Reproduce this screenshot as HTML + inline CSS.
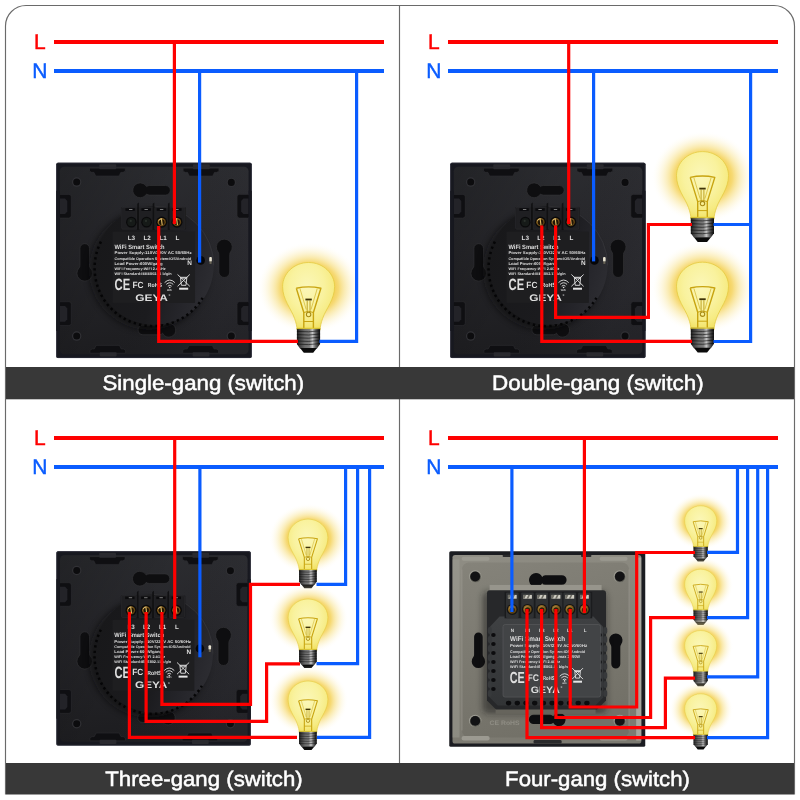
<!DOCTYPE html>
<html lang="en">
<head>
<meta charset="utf-8">
<title>Wiring diagram</title>
<style>
html,body{margin:0;padding:0;background:#fff;}
body{width:800px;height:800px;overflow:hidden;font-family:"Liberation Sans",sans-serif;}
svg{display:block;opacity:.9999;}
.cap{font-family:"Liberation Sans",sans-serif;font-size:21px;fill:#fff;stroke:#fff;stroke-width:.5px;}
.ln{font-family:"Liberation Sans",sans-serif;font-size:21px;stroke-width:.45px;}
.r{stroke:#fe0000;stroke-width:3.2;fill:none;stroke-linejoin:miter;stroke-linecap:butt;}
.b{stroke:#0a5cff;stroke-width:3.2;fill:none;stroke-linejoin:miter;stroke-linecap:butt;}
.R{stroke:#fe0000;stroke-width:4;fill:none;}
.B{stroke:#0a5cff;stroke-width:4;fill:none;}
.t{font-family:"Liberation Sans",sans-serif;fill:#dedede;}
text{text-rendering:geometricPrecision;}
</style>
</head>
<body>
<svg width="800" height="800" viewBox="0 0 800 800">
<defs>
<!-- bulb -->
<radialGradient id="glowG" cx="0.5" cy="0.5" r="0.5">
<stop offset="0" stop-color="#f4d058"/><stop offset="0.48" stop-color="#f4d058"/><stop offset="0.56" stop-color="#f5d564" stop-opacity="0.9"/><stop offset="0.66" stop-color="#f7de80" stop-opacity="0.66"/><stop offset="0.78" stop-color="#fae8a2" stop-opacity="0.4"/><stop offset="0.9" stop-color="#fdf3cc" stop-opacity="0.16"/><stop offset="1" stop-color="#fff" stop-opacity="0"/>
</radialGradient>
<radialGradient id="glassG" cx="0.47" cy="0.36" r="0.66">
<stop offset="0" stop-color="#fbf7b8"/><stop offset="0.5" stop-color="#f9f29e"/><stop offset="0.8" stop-color="#f6eb82"/><stop offset="1" stop-color="#f1e05e"/>
</radialGradient>
<linearGradient id="baseG" x1="0" x2="1" y1="0" y2="0">
<stop offset="0" stop-color="#161616"/><stop offset="0.1" stop-color="#3a3a3a"/><stop offset="0.34" stop-color="#6c6c6c"/><stop offset="0.54" stop-color="#7c7c7c"/><stop offset="0.67" stop-color="#c6c6c6"/><stop offset="0.79" stop-color="#6e6e6e"/><stop offset="0.92" stop-color="#2c2c2c"/><stop offset="1" stop-color="#111"/>
</linearGradient>
<path id="glassP" d="M0,0 C14.5,0 26,11 26,24 C26,37 17.5,46 14,56 C12.4,60.5 11.6,64 11.6,67.5 L-11.6,67.5 C-11.6,64 -12.4,60.5 -14,56 C-17.5,46 -26,37 -26,24 C-26,11 -14.5,0 0,0Z"/>
<g id="bulb">
<ellipse cx="0.8" cy="25.5" rx="52" ry="46" fill="url(#glowG)"/>
<use href="#glassP" fill="url(#glassG)" stroke="#e4cb44" stroke-width="0.8"/>
<g fill="none" stroke="#c8a410" stroke-width="1.4" stroke-linejoin="round">
<path d="M-12.3,25.8 Q0,23 12.3,25.8 L4.8,50 V66 M-12.3,25.8 L-4.8,50 V66"/>
<path d="M-8.6,26.2 L-2.4,47 M8.6,26.2 L2.4,47" stroke="#d6bb3a" stroke-width="0.8"/>
<path d="M-4.8,50 Q0,47.6 4.8,50 M-4.8,59 H4.8" stroke-width="1"/>
<path d="M-1.4,38 V50 M1.4,38 V50" stroke="#b89a18" stroke-width="0.9"/>
<circle cx="0" cy="52" r="2.2" stroke="#a88a14" stroke-width="1.1"/>
</g>
<path d="M-3.2,37 H3.2" stroke="#3e3306" stroke-width="1.8" fill="none"/>
<path d="M-11.7,65.6 H11.5 V81.6 L8.4,86 H-8.6 L-11.7,81.6Z" fill="url(#baseG)"/>
<g stroke="#0a0a0a" stroke-width="0.95" opacity="0.62" fill="none"><path d="M-11.7,68.9 Q0,70 11.5,68.3 M-11.7,72.1 Q0,73.2 11.5,71.5 M-11.7,75.3 Q0,76.4 11.5,74.7 M-11.7,78.5 Q0,79.6 11.5,77.9 M-11.5,81.7 Q0,82.8 11.3,81.1"/></g>
<path d="M-11.7,65.2 H11.5 V66.6 H-11.7Z" fill="#e6cf2e" opacity="0.85"/>
<path d="M-8.6,85.6 H8.4 L4.6,90.3 H-4.8Z" fill="#0b0b0b"/>
</g>
<!-- black switch back (195 x 195 local) -->
<linearGradient id="plateG" x1="0" x2="0.12" y1="0" y2="1">
<stop offset="0" stop-color="#2c2d31"/><stop offset="0.4" stop-color="#27272b"/><stop offset="1" stop-color="#1d1d20"/>
</linearGradient>
<linearGradient id="plateH" x1="0" x2="1" y1="0" y2="0.5">
<stop offset="0" stop-color="#000" stop-opacity="0.22"/><stop offset="0.5" stop-color="#000" stop-opacity="0"/><stop offset="1" stop-color="#9090a8" stop-opacity="0.06"/>
</linearGradient>
<linearGradient id="modG" x1="0" x2="1" y1="0.35" y2="0.65">
<stop offset="0" stop-color="#18181a"/><stop offset="0.55" stop-color="#1b1b1e"/><stop offset="0.8" stop-color="#25252a"/><stop offset="1" stop-color="#2d2d32"/>
</linearGradient>
<radialGradient id="goldG" cx="0.4" cy="0.4" r="0.7">
<stop offset="0" stop-color="#d8b260"/><stop offset="0.45" stop-color="#946a22"/><stop offset="1" stop-color="#382405"/>
</radialGradient>
<filter id="sh" x="-30%" y="-30%" width="160%" height="160%"><feGaussianBlur stdDeviation="3"/></filter>
<g id="gscrew">
<circle r="5.5" fill="#09090a"/><circle r="4.2" fill="url(#goldG)"/><circle r="2.8" fill="#1e1404"/><path d="M-0.3,-3 L0.5,3" stroke="#e2bc62" stroke-width="1.1"/><path d="M-2.9,-1.4 A3.4,3.4 0 0 1 0.2,-3.5" stroke="#f3d890" stroke-width="0.8" fill="none"/>
</g>
<g id="dscrew">
<circle r="5.3" fill="#0a0a0b"/><circle r="4" fill="#161a18"/><circle cx="-0.6" cy="-1.2" r="1.1" fill="#2a302b"/>
</g>
<g id="hole"><circle r="4.7" fill="#313135"/><circle r="3.5" fill="#0c0c0e"/></g>
<g id="labeltxt" class="t">
<text x="58.1" y="85.7" font-size="6.2" font-weight="bold" textLength="50" lengthAdjust="spacingAndGlyphs">WiFi Smart Switch</text>
<text x="58.1" y="91.6" font-size="4" font-weight="bold" textLength="77" lengthAdjust="spacingAndGlyphs">Power Supply:110V/220V AC  50/60Hz</text>
<text x="58.1" y="96.8" font-size="3.7" font-weight="bold" textLength="76.5" lengthAdjust="spacingAndGlyphs">Compatible Operation System:IOS/Android</text>
<text x="58.1" y="101.8" font-size="4" font-weight="bold" textLength="48" lengthAdjust="spacingAndGlyphs">Load Power:600W/gang</text>
<text x="58.1" y="107" font-size="3.7" font-weight="bold" textLength="51" lengthAdjust="spacingAndGlyphs">WiFi Frequency:WiFi 2.4GHz</text>
<text x="58.1" y="112.3" font-size="3.7" font-weight="bold" textLength="57" lengthAdjust="spacingAndGlyphs">WiFi Standard:IEEE802.11 b/g/n</text>
<text x="130.6" y="102.6" font-size="6.4" font-weight="bold">N</text>
<!-- CE -->
<text x="58.2" y="126.9" font-size="16.4" font-weight="bold" textLength="15.6" lengthAdjust="spacingAndGlyphs">CE</text>
<text x="76" y="124.6" font-size="9" font-weight="bold" textLength="11" lengthAdjust="spacingAndGlyphs">FC</text>
<text x="91.2" y="124.2" font-size="6" font-weight="bold" textLength="14.2" lengthAdjust="spacingAndGlyphs">RoHS</text>
<!-- wifi icon -->
<g fill="none" stroke="#e4e4e4" stroke-width="0.9" stroke-linecap="round">
<path d="M108.4,119.4 Q113.2,114.6 118,119.4"/><path d="M110,121.2 Q113.2,118.2 116.4,121.2"/><path d="M111.6,123 Q113.2,121.6 114.8,123"/>
</g>
<circle cx="113.2" cy="124.6" r="0.8" fill="#e4e4e4"/>
<text x="110.4" y="127.6" font-size="2.4" font-weight="bold">WiFi</text>
<!-- weee bin -->
<g fill="none" stroke="#e4e4e4" stroke-width="0.9">
<path d="M121,111.6 L133.2,123.4 M133.2,111.6 L121,123.4"/><path d="M124,115.2 H130.2 L129.4,122.4 H124.8Z"/><path d="M123.4,114.4 H130.8"/>
</g>
<rect x="122.6" y="124.8" width="9" height="2" fill="#e4e4e4"/>
<!-- brand -->
<text x="78.8" y="137.6" font-size="9.6" font-weight="bold" textLength="32.6" lengthAdjust="spacingAndGlyphs">GEYA</text>
<text x="112" y="133" font-size="2.6">®</text>
</g>
<g id="sw">
<rect x="0" y="0" width="195" height="195" rx="1.6" fill="#17181f"/>
<rect x="0.4" y="0.4" width="194.2" height="194.2" rx="1.4" fill="none" stroke="#2c2d3a" stroke-width="0.8"/>
<rect x="3.6" y="4" width="188.2" height="187.2" rx="4.5" fill="url(#plateG)"/>
<rect x="3.6" y="4" width="188.2" height="187.2" rx="4.5" fill="url(#plateH)"/>
<!-- rim notches -->
<g fill="#0f0f12" stroke="#303034" stroke-width="0.5">
<path d="M33.2,5.4 H68.80000000000001 V8.4 L66.6,9.6 H64.4 L62.6,13.2 H39.400000000000006 L37.6,9.6 H35.400000000000006 L33.2,8.4Z"/>
<path d="M126.6,5.4 H162.2 V8.4 L160.0,9.6 H157.79999999999998 L156.0,13.2 H132.79999999999998 L131.0,9.6 H128.79999999999998 L126.6,8.4Z"/>
<path d="M33.6,190.2 H69.2 V187.2 L67.0,186 H64.8 L63.0,182.4 H39.800000000000004 L38.0,186 H35.800000000000004 L33.6,187.2Z"/>
<path d="M126.2,190.2 H161.8 V187.2 L159.6,186 H157.4 L155.6,182.4 H132.4 L130.6,186 H128.4 L126.2,187.2Z"/>
<rect x="2" y="31.6" width="13" height="23.6" rx="2.4"/>
<rect x="2" y="138.8" width="13" height="23.8" rx="2.4"/>
<rect x="180.4" y="31.6" width="13" height="23.6" rx="2.4"/>
<rect x="180.4" y="138.8" width="13" height="23.8" rx="2.4"/>
</g>
<g fill="#2a2a2f"><rect x="43" y="1.6" width="16.8" height="5" rx="0.8"/><rect x="136.4" y="1.6" width="16.8" height="5" rx="0.8"/><rect x="43.4" y="189.2" width="16.8" height="4.2" rx="0.8"/><rect x="136" y="189.2" width="16.8" height="4.2" rx="0.8"/></g>
<g fill="#232328"><path d="M3.6,35.6 h5.2 l2.2,2.6 v10.4 l-2.2,2.6 h-5.2Z"/><path d="M3.6,143 h5.2 l2.2,2.6 v10.6 l-2.2,2.6 h-5.2Z"/><path d="M191.8,35.6 h-5.2 l-2.2,2.6 v10.4 l2.2,2.6 h5.2Z"/><path d="M191.8,143 h-5.2 l-2.2,2.6 v10.6 l2.2,2.6 h5.2Z"/></g>
<g fill="#17181f"><rect x="0" y="28" width="3.6" height="140"/><rect x="191.8" y="28" width="3.2" height="140"/></g>
<!-- screw holes -->
<use href="#hole" x="20.4" y="19.3"/><use href="#hole" x="174.6" y="19.6"/><use href="#hole" x="20.4" y="173.1"/><use href="#hole" x="174.6" y="173.1"/>
<!-- slots -->
<g fill="#0e0e10" stroke="#323235" stroke-width="0.7">
<path d="M83.75,20.1 a7.4,7.4 0 0 1 6.4,3.7 q1.2,-1.1 3,-1.1 h15.8 a4.8,4.8 0 0 1 0,9.6 h-15.8 q-1.8,0 -3,-1.1 a7.4,7.4 0 1 1 -6.4,-11.1Z"/>
<path d="M112.4,174.2 a7,7 0 0 1 -6.4,-4 q-1,1.6 -3,1.6 h-16.6 a4.8,4.8 0 0 1 0,-9.6 h16.6 q2,0 3,1.8 a7,7 0 1 1 6.4,10.2Z"/>
<path d="M28.4,80.8 a4.8,4.8 0 0 1 4.8,4.8 v17 q0,1.6 0.8,2.4 a7.8,7.8 0 1 1 -11.2,0 q0.8,-0.8 0.8,-2.4 v-17 a4.8,4.8 0 0 1 4.8,-4.8Z"/>
<path d="M167.6,114.6 a5.4,5.4 0 0 1 -5.4,-5.4 v-17.4 q0,-1.8 -0.9,-2.8 a7.9,7.9 0 1 1 12.6,0 q-0.9,1 -0.9,2.8 v17.4 a5.4,5.4 0 0 1 -5.4,5.4Z"/>
</g>
<!-- module shadow + circle -->
<circle cx="92.5" cy="107" r="60" fill="#08080a" opacity="0.55" filter="url(#sh)"/>
<circle cx="97.9" cy="102.6" r="59.2" fill="url(#modG)"/>
<path d="M97.9,43.4 A59.2,59.2 0 0 1 157.1,102.6" fill="none" stroke="#3a3a3e" stroke-width="0.8" opacity="0.8"/>
<path d="M44.6,78.8 A58,58 0 0 0 146,135" fill="none" stroke="#040405" stroke-width="2.5" stroke-dasharray="2.3 3.2" opacity="0.95"/>
<!-- terminal block -->
<path d="M64.7,44.6 H129.3 V66.4 H64.7Z" fill="#17171a"/>
<g fill="#1f1f22" stroke="#2e2e31" stroke-width="0.5">
<rect x="65.2" y="44.6" width="15.4" height="21.8" rx="1.2"/><rect x="82.6" y="44.6" width="14.4" height="21.8" rx="1.2"/><rect x="97.9" y="44.6" width="14.4" height="21.8" rx="1.2"/><rect x="113.1" y="44.6" width="15.4" height="21.8" rx="1.2"/>
</g>
<g fill="#101012"><path d="M80.8,41 l1.6,-1.4 v27.6 h-1.8Z"/><path d="M96.2,41 l1.6,-1.4 v27.6 h-1.8Z"/><path d="M111.4,41 l1.6,-1.4 v27.6 h-1.8Z"/></g>
<g fill="#0b0b0d"><rect x="69" y="45.4" width="9.4" height="2.6"/><rect x="85" y="45.4" width="9.4" height="2.6"/><rect x="100.2" y="45.4" width="9.4" height="2.6"/><rect x="115.6" y="45.4" width="9.4" height="2.6"/></g>
<g fill="#8a8a8a"><rect x="72.6" y="46.2" width="3.4" height="0.9"/><rect x="88" y="46.2" width="3.4" height="0.9"/><rect x="103.4" y="46.2" width="3.4" height="0.9"/><rect x="118.6" y="46.2" width="3.4" height="0.9"/></g>
<!-- label sticker -->
<rect x="56.2" y="68.8" width="82.2" height="71.2" fill="#1e1e20"/>
<g class="t" font-size="6.3" font-weight="bold" text-anchor="middle">
<text x="74.9" y="77.6">L3</text><text x="90.6" y="77.6">L2</text><text x="106.6" y="77.6">L1</text><text x="121" y="77.6">L</text>
</g>
<use href="#labeltxt"/>
<!-- N hole + led -->
<circle cx="144" cy="97.5" r="4.3" fill="#060608"/>
<rect x="152.6" y="94.2" width="2.6" height="4.6" rx="1" fill="#e9e4d2"/><rect x="152.9" y="98.6" width="2" height="2.4" fill="#6a6656"/>
</g>

<!-- four-gang grey switch back (195.5 x 195.5 local) -->
<linearGradient id="greyG" x1="0" x2="0.2" y1="0" y2="1">
<stop offset="0" stop-color="#8f8d84"/><stop offset="0.5" stop-color="#858379"/><stop offset="1" stop-color="#7c7a71"/>
</linearGradient>
<linearGradient id="greyG2" x1="0" x2="0.3" y1="0" y2="1">
<stop offset="0" stop-color="#85837a"/><stop offset="1" stop-color="#737168"/>
</linearGradient>
<linearGradient id="mod4G" x1="0" x2="0" y1="0" y2="1">
<stop offset="0" stop-color="#3f4143"/><stop offset="1" stop-color="#323436"/>
</linearGradient>
<g id="hole4"><circle r="6.2" fill="#9c9b92"/><circle cx="0.3" cy="0.5" r="5.6" fill="#64635b"/><circle r="4.9" fill="#121214"/></g>
<radialGradient id="brassG" cx="0.42" cy="0.4" r="0.7">
<stop offset="0" stop-color="#cfa65a"/><stop offset="0.5" stop-color="#8e6824"/><stop offset="1" stop-color="#362606"/>
</radialGradient>
<g id="term4">
<rect x="-6.3" y="-16" width="12.6" height="25.4" rx="1" fill="#2f3133"/>
<rect x="-4.4" y="-13.6" width="8.8" height="3.8" fill="#cfcdc3"/><path d="M-4.4,-13.6 h3 l-1.8,3.8 h-1.2Z M0.8,-13.6 h1.8 l-1.8,3.8 h-1.8Z" fill="#6f6e66"/>
<circle cy="0.9" r="5.5" fill="#141414"/><circle cy="0.9" r="4.3" fill="url(#brassG)"/><circle cy="1.3" r="2.6" fill="#2e2006"/>
</g>
<g id="sw4">
<rect x="-0.35" y="-0.25" width="196" height="195.5" rx="1.6" fill="#1b1c21"/>
<rect x="2.9" y="3.5" width="188.8" height="188.5" rx="2.6" fill="url(#greyG)"/>
<rect x="2.9" y="8" width="7" height="178" fill="#a09f96" opacity="0.45"/>
<rect x="186.6" y="6" width="5.1" height="183" fill="#aeada4" opacity="0.85"/>
<rect x="12.4" y="11" width="167" height="175" rx="7" fill="url(#greyG2)"/>
<path d="M12.4,18 V179 M179.4,18 V179" stroke="#9a988f" stroke-width="1" fill="none" opacity="0.6"/>
<!-- tabs on rim -->
<g fill="#9c9a91"><rect x="12" y="5.2" width="28" height="4" rx="2"/><rect x="53" y="3.2" width="10.6" height="2.4" rx="1" fill="#2a2a2c"/><rect x="131.4" y="3.2" width="10.4" height="2.4" rx="1" fill="#2a2a2c"/><rect x="150" y="5.2" width="28" height="4" rx="2"/><rect x="12" y="184.6" width="28" height="4.4" rx="2"/><rect x="150" y="184.6" width="28" height="4.4" rx="2"/><rect x="84" y="188.6" width="28" height="3.4" rx="1.2" fill="#2a2a2c"/></g>
<!-- holes -->
<use href="#hole4" x="25.6" y="25"/><use href="#hole4" x="170.2" y="25"/><use href="#hole4" x="25.6" y="169.4"/><use href="#hole4" x="170.2" y="169.4"/>
<!-- slots -->
<g fill="#0e0e10">
<path d="M86.4,21.6 a7,7 0 0 1 6.2,3.8 q1,-1.7 3,-1.7 h16.6 a4.8,4.8 0 0 1 0,9.6 h-16.6 q-2,0 -3,-1.5 a7,7 0 1 1 -6.2,-10.2Z"/>
<path d="M109.4,174.6 a6.6,6.6 0 0 1 -5.8,-3.4 q-1,1.4 -3,1.4 h-16.6 a4.7,4.7 0 0 1 0,-9.4 h16.6 q2,0 3,1.6 a6.6,6.6 0 1 1 5.8,9.8Z"/>
<path d="M28.8,81 a4.3,4.3 0 0 1 4.3,4.3 v17.6 q0,1.6 0.8,2.6 a6.7,6.7 0 1 1 -10.2,0 q0.8,-1 0.8,-2.6 v-17.6 a4.3,4.3 0 0 1 4.3,-4.3Z"/>
<path d="M166.2,117 a4.5,4.5 0 0 1 -4.5,-4.5 v-17 q0,-1.6 -0.8,-2.6 a6.7,6.7 0 1 1 10.6,0 q-0.8,1 -0.8,2.6 v17 a4.5,4.5 0 0 1 -4.5,4.5Z"/>
</g>
<!-- module shadow -->
<rect x="33" y="40" width="124" height="122" rx="5" fill="#151515" opacity="0.5" filter="url(#sh)"/>
<rect x="40" y="33.4" width="112" height="8" fill="#97958c"/>
<rect x="46" y="156" width="100" height="6.4" fill="#66645c"/>
<!-- module -->
<path d="M40.4,38.8 H153.4 A3,3 0 0 1 156.4,41.8 V149 L147.4,158 H46.4 L37.4,149 V41.8 A3,3 0 0 1 40.4,38.8Z" fill="#27282a"/>
<path d="M50,65 H143.8 L153.6,75.4 V146 L145.6,154 H48.2 L40.2,146 V75.4Z" fill="url(#mod4G)"/>
<!-- vents -->
<g fill="#37393b"><rect x="38.2" y="75.6" width="4" height="6.8" rx="2"/><rect x="153.6" y="75.6" width="4" height="6.8" rx="2"/><rect x="38.2" y="84.6" width="4" height="6.8" rx="2"/><rect x="153.6" y="84.6" width="4" height="6.8" rx="2"/><rect x="38.2" y="93.6" width="4" height="6.8" rx="2"/><rect x="153.6" y="93.6" width="4" height="6.8" rx="2"/><rect x="38.2" y="102.6" width="4" height="6.8" rx="2"/><rect x="153.6" y="102.6" width="4" height="6.8" rx="2"/><rect x="38.2" y="111.6" width="4" height="6.8" rx="2"/><rect x="153.6" y="111.6" width="4" height="6.8" rx="2"/><rect x="38.2" y="120.6" width="4" height="6.8" rx="2"/><rect x="153.6" y="120.6" width="4" height="6.8" rx="2"/><rect x="38.2" y="129.6" width="4" height="6.8" rx="2"/><rect x="153.6" y="129.6" width="4" height="6.8" rx="2"/><rect x="38.2" y="138.6" width="4" height="6.8" rx="2"/><rect x="153.6" y="138.6" width="4" height="6.8" rx="2"/></g>
<g fill="#0c0c0e">
<ellipse cx="43.8" cy="83.5" rx="2.3" ry="1.9"/><ellipse cx="43.8" cy="92.5" rx="2.3" ry="1.9"/><ellipse cx="43.8" cy="101.5" rx="2.3" ry="1.9"/><ellipse cx="43.8" cy="110.5" rx="2.3" ry="1.9"/><ellipse cx="43.8" cy="119.5" rx="2.3" ry="1.9"/><ellipse cx="43.8" cy="128.5" rx="2.3" ry="1.9"/><ellipse cx="43.8" cy="137.5" rx="2.3" ry="1.9"/>
<ellipse cx="150" cy="83.5" rx="2.3" ry="1.9"/><ellipse cx="150" cy="92.5" rx="2.3" ry="1.9"/><ellipse cx="150" cy="101.5" rx="2.3" ry="1.9"/><ellipse cx="150" cy="110.5" rx="2.3" ry="1.9"/><ellipse cx="150" cy="119.5" rx="2.3" ry="1.9"/><ellipse cx="150" cy="128.5" rx="2.3" ry="1.9"/><ellipse cx="150" cy="137.5" rx="2.3" ry="1.9"/>
<ellipse cx="59.0" cy="151.6" rx="2.7" ry="2.3"/><ellipse cx="67.7" cy="151.6" rx="2.7" ry="2.3"/><ellipse cx="76.4" cy="151.6" rx="2.7" ry="2.3"/><ellipse cx="85.1" cy="151.6" rx="2.7" ry="2.3"/><ellipse cx="93.8" cy="151.6" rx="2.7" ry="2.3"/><ellipse cx="102.5" cy="151.6" rx="2.7" ry="2.3"/><ellipse cx="111.2" cy="151.6" rx="2.7" ry="2.3"/><ellipse cx="119.9" cy="151.6" rx="2.7" ry="2.3"/><ellipse cx="128.6" cy="151.6" rx="2.7" ry="2.3"/><ellipse cx="137.3" cy="151.6" rx="2.7" ry="2.3"/>
</g>
<!-- terminals -->
<rect x="55" y="40.4" width="87.6" height="26.4" fill="#1b1c1e"/>
<use href="#term4" x="62.7" y="57"/><use href="#term4" x="77.9" y="57"/><use href="#term4" x="92.2" y="57"/><use href="#term4" x="106.4" y="57"/><use href="#term4" x="120.2" y="57"/><use href="#term4" x="134.8" y="57"/>
<!-- label -->
<rect x="53.4" y="73" width="97.6" height="72.6" rx="2.2" fill="#424446" stroke="#5a5c5e" stroke-width="0.6"/>
<g class="t" font-weight="bold">
<g font-size="4.6" text-anchor="middle"><text x="62.7" y="80.4">N</text><text x="77.9" y="80.4">L4</text><text x="92.2" y="80.4">L3</text><text x="106.4" y="80.4">L2</text><text x="120.2" y="80.4">L1</text><text x="135.6" y="80.4">L</text></g>
<text x="60.5" y="89.4" font-size="6.8" textLength="55" lengthAdjust="spacingAndGlyphs">WiFi Smart Switch</text>
<text x="60.5" y="95.3" font-size="4.1" textLength="77" lengthAdjust="spacingAndGlyphs">Power Supply:110V/220V AC  50/60Hz</text>
<text x="60.5" y="101.3" font-size="3.8" textLength="75" lengthAdjust="spacingAndGlyphs">Compatible Operation System:IOS/Android</text>
<text x="60.5" y="106.9" font-size="4.1" textLength="70" lengthAdjust="spacingAndGlyphs">Load Power:600W/gang,Lmax 2000W</text>
<text x="60.5" y="111.7" font-size="3.7" textLength="50" lengthAdjust="spacingAndGlyphs">WiFi Frequency:WiFi 2.4GHz</text>
<text x="60.5" y="116.9" font-size="3.7" textLength="57.8" lengthAdjust="spacingAndGlyphs">WiFi Standard:IEEE802.11 b/g/n</text>
<text x="77.9" y="129.4" font-size="9.6" textLength="11.5" lengthAdjust="spacingAndGlyphs">FC</text>
<text x="93.5" y="128.6" font-size="5.6" textLength="11.4" lengthAdjust="spacingAndGlyphs">RoHS</text>
<text x="81.2" y="141.2" font-size="9.4" textLength="29" lengthAdjust="spacingAndGlyphs">GEYA</text>
<text x="111" y="136.8" font-size="2.6" font-weight="normal">®</text>
<text x="112.6" y="132.4" font-size="2.2">WiFi</text>
</g>
<text class="t" x="60.2" y="131.6" font-size="16" font-weight="bold" textLength="15" lengthAdjust="spacingAndGlyphs">CE</text>
<g fill="none" stroke="#e4e4e4" stroke-width="0.9" stroke-linecap="round">
<path d="M110.4,124.4 Q115,119.8 119.6,124.4"/><path d="M112,126.2 Q115,123.4 118,126.2"/><path d="M113.5,128 Q115,126.7 116.5,128"/>
</g>
<circle cx="115" cy="129.4" r="0.8" fill="#e4e4e4"/>
<g fill="none" stroke="#e4e4e4" stroke-width="0.9">
<path d="M122.6,116.6 L133.4,127.6 M133.4,116.6 L122.6,127.6"/><path d="M125.2,120 H130.8 L130,126.6 H126Z"/><path d="M124.6,119.2 H131.4"/>
</g>
<rect x="123.6" y="129.2" width="8.8" height="2" fill="#e4e4e4"/>
<text x="40" y="173.4" font-size="6.4" font-weight="bold" fill="#8f8d84" font-family="Liberation Sans, sans-serif" textLength="30" lengthAdjust="spacingAndGlyphs">CE RoHS</text>
</g>


</defs>

<!-- frame -->
<rect x="0" y="0" width="800" height="800" fill="#fff"/>
<path d="M5.5,794.5 V26 A20.5,20.5 0 0 1 26,5.5 H774 A20.5,20.5 0 0 1 794.5,26 V794.5" fill="#fff" stroke="#6a6a6a" stroke-width="1.15"/>
<line x1="399.5" y1="5.5" x2="399.5" y2="794" stroke="#6a6a6a" stroke-width="1.15"/>

<!-- caption bands -->
<rect x="6" y="367" width="788" height="32.3" fill="#383838"/>
<rect x="6" y="763" width="788" height="31.5" fill="#383838"/>
<text class="cap" x="203.3" y="390" text-anchor="middle" textLength="201.6" lengthAdjust="spacingAndGlyphs">Single-gang (switch)</text>
<text class="cap" x="597.8" y="390" text-anchor="middle" textLength="211.6" lengthAdjust="spacingAndGlyphs">Double-gang (switch)</text>
<text class="cap" x="204" y="785.5" text-anchor="middle" textLength="197.4" lengthAdjust="spacingAndGlyphs">Three-gang (switch)</text>
<text class="cap" x="597.5" y="785.5" text-anchor="middle" textLength="184.8" lengthAdjust="spacingAndGlyphs">Four-gang (switch)</text>

<!-- ===== main L / N lines ===== -->
<text class="ln" x="34.1" y="49" fill="#fe0000" stroke="#fe0000">L</text>
<text class="ln" x="32.3" y="78" fill="#0a5cff" stroke="#0a5cff">N</text>
<text class="ln" x="428.1" y="49" fill="#fe0000" stroke="#fe0000">L</text>
<text class="ln" x="426.3" y="78" fill="#0a5cff" stroke="#0a5cff">N</text>
<text class="ln" x="34.1" y="445" fill="#fe0000" stroke="#fe0000">L</text>
<text class="ln" x="32.3" y="474" fill="#0a5cff" stroke="#0a5cff">N</text>
<text class="ln" x="428.1" y="445" fill="#fe0000" stroke="#fe0000">L</text>
<text class="ln" x="426.3" y="474" fill="#0a5cff" stroke="#0a5cff">N</text>
<path class="R" d="M54,42 H384 M448,42 H778 M54,438 H384 M448,438 H778"/>
<path class="B" d="M54,71 H384 M448,71 H778 M54,467 H384 M448,467 H778"/>

<!-- ===== switches ===== -->
<g transform="translate(56.25,162.75) scale(1.0026,1.0013)"><use href="#sw"/>
<use href="#dscrew" x="74.9" y="59.3"/><use href="#dscrew" x="90.1" y="59.3"/><use href="#gscrew" x="105.2" y="59.3"/><use href="#gscrew" x="120.4" y="59.3"/></g>
<g transform="translate(450.25,162.75) scale(1.0013,1.0013)"><use href="#sw"/>
<use href="#dscrew" x="74.9" y="59.3"/><use href="#gscrew" x="90.1" y="59.3"/><use href="#gscrew" x="105.2" y="59.3"/><use href="#gscrew" x="120.4" y="59.3"/></g>
<g transform="translate(56.4,551.25) scale(0.9967,0.9967)"><use href="#sw"/>
<use href="#gscrew" x="74.9" y="59.3"/><use href="#gscrew" x="90.1" y="59.3"/><use href="#gscrew" x="105.2" y="59.3"/><use href="#gscrew" x="120.4" y="59.3"/></g>
<use href="#sw4" transform="translate(449.6,551.5)"/>



<!-- ===== bulbs ===== -->
<use href="#bulb" transform="translate(308.6,262.5)"/>
<use href="#bulb" transform="translate(702.5,151.6)"/>
<use href="#bulb" transform="translate(702.5,262.2)"/>
<use href="#bulb" transform="translate(308,519.1) scale(0.765)"/>
<use href="#bulb" transform="translate(308,599) scale(0.765)"/>
<use href="#bulb" transform="translate(308,681) scale(0.765)"/>
<use href="#bulb" transform="translate(700.7,505.8) scale(0.617)"/>
<use href="#bulb" transform="translate(700.7,569.2) scale(0.617)"/>
<use href="#bulb" transform="translate(700.7,630.5) scale(0.617)"/>
<use href="#bulb" transform="translate(700.7,693.8) scale(0.617)"/>


<!-- ===== panel 1 wires ===== -->
<path class="r" d="M174.4,42 V224"/>
<path class="b" d="M199.6,71 V262.6"/>
<path class="r" d="M158.7,226 V341.4 H298"/>
<path class="b" d="M319.5,341.4 H356.6 V71"/>

<!-- ===== panel 2 wires ===== -->
<path class="r" d="M568.7,42 V224"/>
<path class="b" d="M593.6,71 V261.4"/>
<path class="r" d="M555.6,225.6 V317.3 H648.4 V224.5 H692"/>
<path class="r" d="M541.8,225.6 V341.3 H692"/>
<path class="b" d="M713.5,224.5 H750.6 M713.5,341.5 H750.6 V71"/>

<!-- ===== panel 3 wires ===== -->
<path class="r" d="M174.7,438 V619"/>
<path class="b" d="M199.9,467 V657.3"/>
<path class="r" d="M161.9,612 V704.3 H250.5 V584.4 H300"/>
<path class="r" d="M146.1,612 V721.4 H266.6 V663.8 H300"/>
<path class="r" d="M129.4,612 V737.4 H297"/>
<path class="b" d="M316.5,584.4 H345.6 V467 M316.5,663.6 H357.6 V467 M317,737.4 H369.6 V467"/>

<!-- ===== panel 4 wires ===== -->
<path class="b" d="M511.9,467 V612"/>
<path class="r" d="M584.4,438 V613"/>
<path class="r" d="M570.2,609 V707 H636.7 V552.5 H695"/>
<path class="r" d="M555.9,609 V717.5 H650.6 V617.6 H695"/>
<path class="r" d="M541.6,609 V727.7 H665.4 V678.1 H695"/>
<path class="r" d="M527,609 V737.6 H695"/>
<path class="b" d="M707,552.4 H737.5 V467 M707,617.6 H747.6 V467 M707,676.8 H757.7 V467 M707,737.6 H767.6 V467"/>


</svg>
</body>
</html>
